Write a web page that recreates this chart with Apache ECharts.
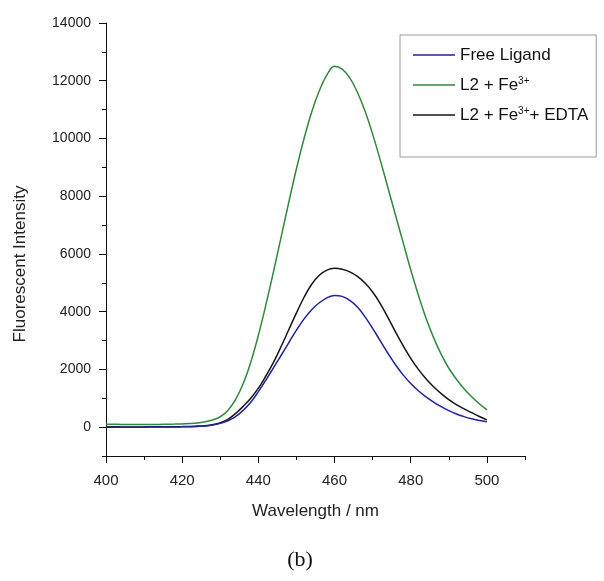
<!DOCTYPE html>
<html><head><meta charset="utf-8">
<script src="https://cdn.jsdelivr.net/npm/echarts@6/dist/echarts.min.js"></script>
<style>html,body{margin:0;padding:0;background:#fff}#c{width:604px;height:581px}</style>
</head><body><div id="c"></div>
<script>
// Wavelength grid (nm)
const wavelengths = [400,402,404,406,408,410,412,414,416,418,420,422,424,426,428,430,432,434,436,438,440,442,444,446,448,450,452,454,456,458,460,462,464,466,468,470,472,474,476,478,480,482,484,486,488,490,492,494,496,498,500];
// Free Ligand (blue)
const freeLigand = [0,0,0,0,0,0,2,3,4,5,10,15,25,40,70,130,220,360,580,860,1230,1640,2060,2490,2930,3360,3750,4070,4310,4480,4560,4530,4390,4160,3820,3420,2990,2560,2160,1810,1510,1260,1050,870,710,570,455,365,290,230,190];
// L2 + Fe3+ (green)
const l2Fe = [100,98,95,92,90,90,92,95,100,105,112,122,142,185,250,360,580,950,1500,2250,3180,4250,5400,6600,7800,8950,10000,10920,11650,12200,12500,12400,12100,11600,10950,10150,9250,8300,7350,6400,5450,4580,3780,3100,2520,2040,1660,1330,1050,810,600];
// L2 + Fe3+ + EDTA (black)
const l2FeEdta = [10,10,8,8,8,8,10,10,12,14,18,25,35,50,85,150,270,470,720,1000,1350,1780,2250,2800,3380,3960,4500,4950,5260,5440,5500,5470,5380,5220,4990,4680,4280,3800,3300,2820,2380,2000,1680,1400,1160,950,780,630,500,370,250];
// Tick labels
const xTickLabels = [400,420,440,460,480,500];
const yTickLabels = [0,2000,4000,6000,8000,10000,12000,14000];
const seriesNames = ['Free Ligand','L2 + Fe3+','L2 + Fe3++ EDTA'];

const pairs = arr => wavelengths.map((w,i)=>[w, arr[i]]);
const FONT = "'Liberation Sans', Arial, sans-serif";
const TXT = '#222';

const chart = echarts.init(document.getElementById('c'), null, {renderer:'canvas'});
chart.setOption({
  animation:false,
  backgroundColor:'#fff',
  grid:{left:106, top:23, right:79, bottom:125, containLabel:false},
  legend:{
    data:seriesNames,
    orient:'vertical', left:400, top:35,
    padding:[11,8,33,13],
    borderColor:'#9a9a9a', borderWidth:1, backgroundColor:'#fff',
    icon:'rect', itemWidth:42, itemHeight:1.5, itemGap:12,
    textStyle:{fontFamily:FONT, fontSize:17, color:'#111', lineHeight:18,
      rich:{sup:{fontFamily:FONT, fontSize:10, color:'#111', verticalAlign:'top', lineHeight:10}}},
    formatter: n => n.replace('Fe3+','Fe{sup|3+}')
  },
  xAxis:[{
    type:'value', min:400, max:510, interval:10, position:'bottom',
    name:'Wavelength / nm', nameLocation:'middle', nameGap:47,
    nameTextStyle:{fontFamily:FONT, fontSize:17, color:TXT},
    axisLine:{show:true, onZero:false, lineStyle:{color:'#111', width:1}},
    axisTick:{show:true, inside:false, length:7, customValues:xTickLabels, lineStyle:{color:'#111'}},
    axisLabel:{show:true, margin:17, fontFamily:FONT, fontSize:15, color:TXT, customValues:xTickLabels, formatter:v=>String(v)},
    splitLine:{show:false}
  },{
    type:'value', min:400, max:510, interval:10, position:'bottom',
    axisLine:{show:false, onZero:false}, axisLabel:{show:false}, splitLine:{show:false},
    axisTick:{show:true, inside:false, length:4, lineStyle:{color:'#111'}}
  }],
  yAxis:[{
    type:'value', min:-1000, max:14000, interval:1000, position:'left',
    axisLine:{show:true, onZero:false, lineStyle:{color:'#111', width:1}},
    axisTick:{show:true, inside:false, length:7, customValues:yTickLabels, lineStyle:{color:'#111'}},
    axisLabel:{show:true, margin:15, fontFamily:FONT, fontSize:14, color:TXT, customValues:yTickLabels, formatter:v=>String(v)},
    splitLine:{show:false}
  },{
    type:'value', min:-1000, max:14000, interval:1000, position:'left',
    axisLine:{show:false, onZero:false}, axisLabel:{show:false}, splitLine:{show:false},
    axisTick:{show:true, inside:false, length:4, lineStyle:{color:'#111'}}
  }],
  graphic:[
    {type:'text', x:20, y:264, rotation:Math.PI/2,
     style:{text:'Fluorescent Intensity', fontFamily:FONT, fontSize:17, fill:TXT, align:'center', verticalAlign:'middle'}},
    {type:'text', x:300, y:560,
     style:{text:'(b)', fontFamily:"'Liberation Serif', 'Times New Roman', serif", fontSize:22, fill:'#111', align:'center', verticalAlign:'middle'}}
  ],
  series:[
    {name:seriesNames[1], type:'line', data:pairs(l2Fe), smooth:0.4, symbol:'none', z:2,
     lineStyle:{color:'#2e8a3a', width:1.5}, itemStyle:{color:'#2e8a3a'}},
    {name:seriesNames[2], type:'line', data:pairs(l2FeEdta), smooth:0.4, symbol:'none', z:3,
     lineStyle:{color:'#151515', width:1.5}, itemStyle:{color:'#151515'}},
    {name:seriesNames[0], type:'line', data:pairs(freeLigand), smooth:0.4, symbol:'none', z:4,
     lineStyle:{color:'#22229c', width:1.5}, itemStyle:{color:'#22229c'}}
  ]
});
</script>
</body></html>
